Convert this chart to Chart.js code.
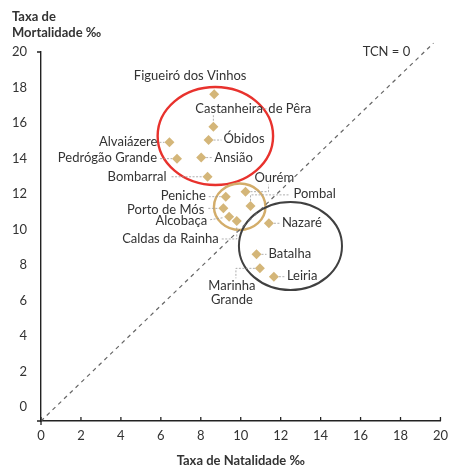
<!DOCTYPE html>
<html lang="pt">
  <head>
    <meta charset="UTF-8" />
    <title>Natalidade e Mortalidade</title>
    <script src="https://cdn.jsdelivr.net/npm/chart.js"></script>
    <style>
      * {
        margin: 0;
        padding: 0;
        box-sizing: border-box;
      }

      html,
      body {
        background: #ffffff;
        overflow: hidden;
        font-family: Lato, "Open Sans", sans-serif;
      }

      #tcnChart {
        display: block;
      }
    </style>
  </head>
  <body>
    <canvas id="tcnChart" width="455" height="470"></canvas>

    <script>
      // Concelhos
      const municipios = [
        "Figueiró dos Vinhos",
        "Castanheira de Pêra",
        "Óbidos",
        "Alvaiázere",
        "Pedrógão Grande",
        "Ansião",
        "Bombarral",
        "Ourém",
        "Peniche",
        "Pombal",
        "Porto de Mós",
        "Alcobaça",
        "Caldas da Rainha",
        "Nazaré",
        "Batalha",
        "Marinha Grande",
        "Leiria",
      ];
      const natalidade = [
        8.67, 8.63, 8.39, 6.43, 6.81, 8.02, 8.34, 10.24, 9.25, 10.49, 9.13,
        9.42, 9.8, 11.41, 10.79, 10.96, 11.66,
      ];
      const mortalidade = [
        17.62, 15.79, 15.04, 14.91, 13.99, 14.05, 12.97, 12.13, 11.85, 11.33,
        11.19, 10.72, 10.48, 10.35, 8.6, 7.81, 7.34,
      ];
      const xTicks = [0, 2, 4, 6, 8, 10, 12, 14, 16, 18, 20];
      const yTicks = [0, 2, 4, 6, 8, 10, 12, 14, 16, 18, 20];
      // TCN = 0 reference line, as printed
      const tcnX = [0, 19.65];
      const tcnY = [-0.79, 20.5];

      // Ellipses around the three groups (data units)
      const grupos = [
        { cx: 8.73, cy: 15.27, rx: 2.89, ry: 2.76, cor: "#e8322d", largura: 2.4 },
        { cx: 9.95, cy: 11.28, rx: 1.29, ry: 1.31, cor: "#d3ad6a", largura: 2.4 },
        { cx: 12.49, cy: 9.07, rx: 2.58, ry: 2.48, cor: "#404040", largura: 2 },
      ];

      // label placement, px from the point; lead = leader polylines
      const rotulos = {
        "Figueiró dos Vinhos": { align: "center", dx: -24, dy: -18, lead: [] },
        "Castanheira de Pêra": {
          align: "left", dx: -18, dy: -18, split: 55,
          lead: [[[0, -6], [0, -12]], [[45, -18], [53, -18]]],
        },
        "Óbidos": { align: "left", dx: 15, dy: -1, lead: [[[5, 0], [13, 0]]] },
        "Alvaiázere": { align: "right", dx: -12, dy: -1, lead: [[[-10, 0], [-5, 0]]] },
        "Pedrógão Grande": { align: "right", dx: -20, dy: -1, lead: [[[-17, 0], [-5, 0]]] },
        "Ansião": { align: "left", dx: 13, dy: 0, lead: [[[5, 0], [11, 0]]] },
        "Bombarral": { align: "right", dx: -41, dy: 0, lead: [[[-36, 0], [-5, 0]]] },
        "Ourém": { align: "left", dx: 9, dy: -14, lead: [[[5, 0], [23, 0], [23, -7]]] },
        "Pombal": { align: "left", dx: 43, dy: -12, lead: [[[0, -5], [0, -11], [38, -11]]] },
        "Peniche": { align: "right", dx: -20, dy: -1, lead: [[[-17, 0], [-5, 0]]] },
        "Porto de Mós": { align: "right", dx: -19, dy: 1, lead: [[[-15, 0], [-5, 0]]] },
        "Alcobaça": { align: "right", dx: -22, dy: 4, lead: [[[-19, 3], [-6, 1]]] },
        "Caldas da Rainha": {
          align: "right", dx: -18, dy: 18,
          lead: [[[-15, 18], [0, 18], [0, 6]]],
        },
        "Nazaré": { align: "left", dx: 13, dy: 0, lead: [[[5, 0], [11, 0]]] },
        "Batalha": { align: "left", dx: 12, dy: -1, lead: [[[5, 0], [10, 0]]] },
        "Marinha Grande": {
          align: "center", dx: -28, dy: 17, lines: true,
          lead: [[[-5, 0], [-24, 0], [-24, 10]]],
        },
        "Leiria": { align: "left", dx: 13, dy: -1, lead: [[[5, 0], [11, 0]]] },
      };

      const textColor = "#333333";
      const labelFont = "13px Lato, 'Open Sans', sans-serif";
      const boldFont = "bold 13px Lato, 'Open Sans', sans-serif";

      const anotacoes = {
        id: "anotacoes",
        beforeDatasetsDraw(chart) {
          const { ctx } = chart;
          const { x, y } = chart.scales;
          grupos.forEach((g) => {
            const cx = x.getPixelForValue(g.cx);
            const cy = y.getPixelForValue(g.cy);
            const rx = Math.abs(x.getPixelForValue(g.cx + g.rx) - cx);
            const ry = Math.abs(y.getPixelForValue(g.cy + g.ry) - cy);
            ctx.save();
            ctx.beginPath();
            ctx.ellipse(cx, cy, rx, ry, 0, 0, Math.PI * 2);
            ctx.lineWidth = g.largura;
            ctx.strokeStyle = g.cor;
            ctx.stroke();
            ctx.restore();
          });
        },
        afterDatasetsDraw(chart) {
          const { ctx } = chart;
          const meta = chart.getDatasetMeta(1);
          ctx.save();
          ctx.font = labelFont;
          ctx.fillStyle = textColor;
          ctx.textBaseline = "middle";
          meta.data.forEach((pt, i) => {
            const nome = municipios[i];
            const r = rotulos[nome];
            if (!r) return;
            // leader lines
            ctx.save();
            ctx.strokeStyle = "#9a9a9a";
            ctx.lineWidth = 0.8;
            ctx.setLineDash([2, 1.5]);
            r.lead.forEach((poly) => {
              ctx.beginPath();
              poly.forEach(([lx, ly], k) => {
                if (k === 0) ctx.moveTo(pt.x + lx, pt.y + ly);
                else ctx.lineTo(pt.x + lx, pt.y + ly);
              });
              ctx.stroke();
            });
            ctx.restore();

            const tx = pt.x + r.dx;
            const ty = pt.y + r.dy;
            const palavras = nome.split(" ");
            if (r.lines) {
              ctx.textAlign = "center";
              ctx.fillText(palavras[0], tx, ty);
              ctx.fillText(palavras.slice(1).join(" "), tx, ty + 14);
            } else if (r.split) {
              ctx.textAlign = "left";
              ctx.fillText(palavras[0], tx, ty);
              ctx.fillText(palavras.slice(1).join(" "), pt.x + r.split, ty);
            } else {
              ctx.textAlign = r.align;
              ctx.fillText(nome, tx, ty);
            }
          });
          ctx.restore();
        },
        afterDraw(chart) {
          const { ctx, chartArea } = chart;
          const { x } = chart.scales;
          ctx.save();
          ctx.strokeStyle = "#222222";
          ctx.lineWidth = 1.3;
          // tick marks pointing inside
          xTicks.forEach((v) => {
            const px = x.getPixelForValue(v);
            ctx.beginPath();
            ctx.moveTo(px, chartArea.bottom);
            ctx.lineTo(px, chartArea.bottom - 4);
            ctx.stroke();
          });
          // axis cross at origin and top tick
          ctx.beginPath();
          ctx.moveTo(chartArea.left, chartArea.bottom);
          ctx.lineTo(chartArea.left, chartArea.bottom + 4);
          ctx.moveTo(chartArea.left, chartArea.bottom);
          ctx.lineTo(chartArea.left - 4, chartArea.bottom);
          ctx.moveTo(chartArea.left, chartArea.top);
          ctx.lineTo(chartArea.left - 4, chartArea.top);
          ctx.stroke();

          // y title, written flat at top left
          ctx.fillStyle = textColor;
          ctx.font = boldFont;
          ctx.textAlign = "left";
          ctx.textBaseline = "middle";
          ctx.fillText("Taxa de", 12, 17);
          ctx.fillText("Mortalidade ‰", 12, 33);

          ctx.font = labelFont;
          ctx.textAlign = "center";
          ctx.fillText("TCN = 0", chartArea.right - 54, chartArea.top);
          ctx.restore();
        },
      };

      new Chart(document.getElementById("tcnChart"), {
        type: "scatter",
        data: {
          datasets: [
            {
              type: "line",
              data: tcnX.map((v, i) => ({ x: v, y: tcnY[i] })),
              borderColor: "#666666",
              borderWidth: 1.2,
              borderDash: [4, 4],
              pointRadius: 0,
              showLine: true,
              clip: false,
            },
            {
              data: natalidade.map((v, i) => ({ x: v, y: mortalidade[i] })),
              pointStyle: "rectRot",
              pointRadius: 5,
              backgroundColor: "#d4b679",
              borderWidth: 0,
            },
          ],
        },
        options: {
          responsive: false,
          animation: false,
          layout: { padding: { top: 52, right: 11, left: 0, bottom: 0 } },
          plugins: {
            legend: { display: false },
            tooltip: { enabled: false },
          },
          scales: {
            x: {
              type: "linear",
              min: 0,
              max: 20,
              afterBuildTicks: (s) => {
                s.ticks = xTicks.map((v) => ({ value: v }));
              },
              afterFit: (s) => {
                s.height = 49;
              },
              grid: { display: false, drawTicks: false },
              border: { display: true, color: "#222222", width: 1.4 },
              ticks: {
                padding: 7,
                color: textColor,
                font: { family: "Lato", size: 13 },
              },
              title: {
                display: true,
                text: "Taxa de Natalidade ‰",
                color: textColor,
                font: { family: "Lato", size: 13, weight: "bold" },
                padding: { top: 0, bottom: 1 },
              },
            },
            y: {
              type: "linear",
              min: -0.79,
              max: 20,
              afterBuildTicks: (s) => {
                s.ticks = yTicks.map((v) => ({ value: v }));
              },
              afterFit: (s) => {
                s.width = 41;
              },
              grid: { display: false, drawTicks: false },
              border: { display: true, color: "#222222", width: 1.4 },
              ticks: {
                padding: 14,
                color: textColor,
                font: { family: "Lato", size: 13 },
              },
            },
          },
        },
        plugins: [anotacoes],
      });
    </script>
  </body>
</html>
